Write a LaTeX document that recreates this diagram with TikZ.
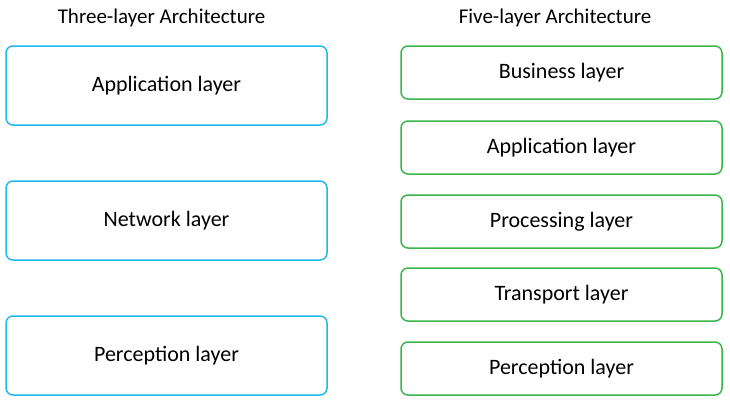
\documentclass[tikz,border=0pt]{standalone}
\usepackage{fontspec}
\setmainfont{Carlito}
\definecolor{cyanb}{HTML}{1EB8EC}
\definecolor{greenb}{HTML}{3AB54A}
\begin{document}
\begin{tikzpicture}[x=1pt,y=-1pt,
  lbox/.style={draw=cyanb,line width=1.5pt,rounded corners=7pt,minimum width=321pt,minimum height=79pt,inner sep=0pt,font=\fontsize{22}{26}\selectfont},
  rbox/.style={draw=greenb,line width=1.5pt,rounded corners=7pt,minimum width=321pt,minimum height=53pt,inner sep=0pt,font=\fontsize{22}{26}\selectfont},
  ttl/.style={font=\fontsize{21}{25}\selectfont,inner sep=0pt}]
\useasboundingbox (0,0) rectangle (730,405);
\node[ttl] (t3) at (161.5,18) {Three-layer Architecture};
\node[ttl] (t5) at (555,18) {Five-layer Architecture};
\node[lbox] (a3) at (166.5,85.5) {Application layer};
\node[lbox] (n3) at (166.5,220.5) {Network layer};
\node[lbox] (p3) at (166.5,355.5) {Perception layer};
\node[rbox] (b5) at (561.5,72.5) {Business layer};
\node[rbox] (a5) at (561.5,147.5) {Application layer};
\node[rbox] (pr5) at (561.5,221.5) {Processing layer};
\node[rbox] (t5b) at (561.5,294.5) {Transport layer};
\node[rbox] (p5) at (561.5,368.5) {Perception layer};
\end{tikzpicture}
\end{document}
